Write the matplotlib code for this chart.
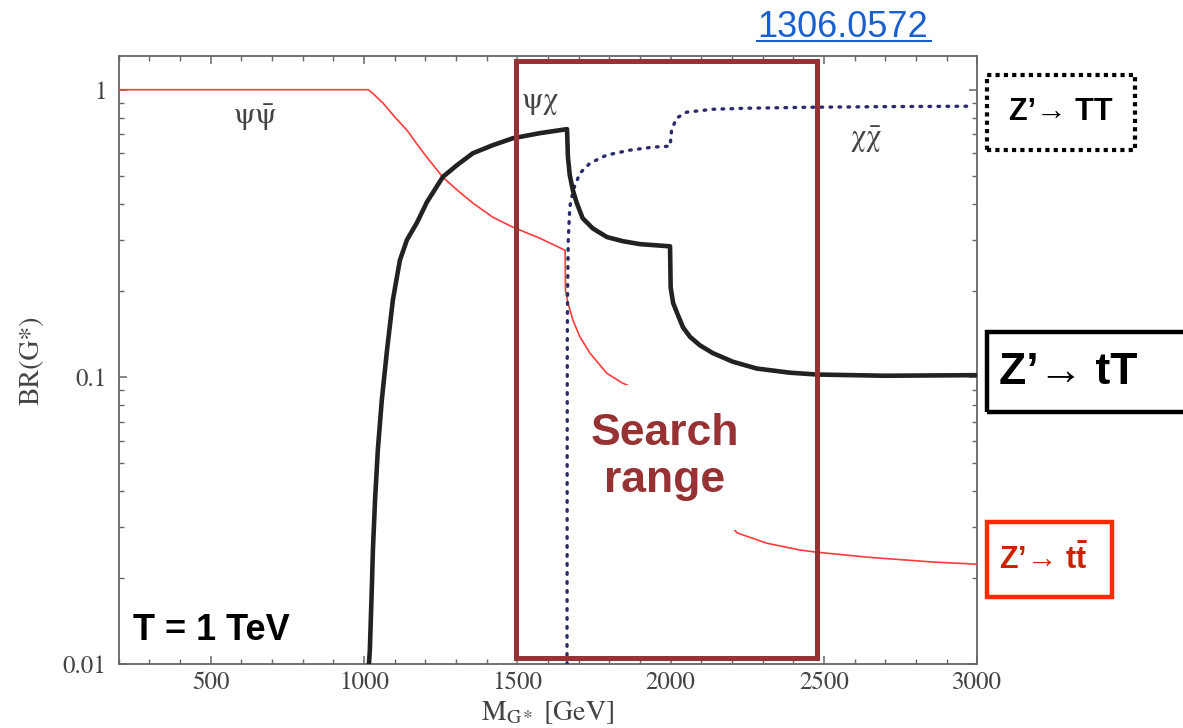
import matplotlib.pyplot as plt
from matplotlib.patches import Rectangle
from matplotlib.lines import Line2D
from matplotlib.ticker import MultipleLocator, LogLocator, FixedLocator, NullFormatter

plt.rcParams['mathtext.fontset'] = 'stix'
plt.rcParams['mathtext.bf'] = 'Liberation Sans:bold'

# branching ratios vs. G* mass, T = 1 TeV
# Z' -> t tbar
m_tt = [200, 1000, 1014, 1029, 1062, 1101, 1140, 1173, 1205, 1257, 1303, 1355, 1420, 1486,
        1574, 1656, 1657, 1665, 1681, 1704, 1737, 1792, 1844, 1900, 2000, 2100, 2216, 2313,
        2421, 2470, 2640, 2855, 3000]
br_tt = [1.0, 1.0, 1.0, 0.970, 0.898, 0.802, 0.723, 0.646, 0.582, 0.496, 0.448, 0.403, 0.360,
         0.332, 0.304, 0.276, 0.200, 0.181, 0.158, 0.138, 0.121, 0.103, 0.0951, 0.090, 0.062,
         0.041, 0.0287, 0.0264, 0.0250, 0.0246, 0.0236, 0.0227, 0.0223]

# Z' -> t T
m_tT = [1016, 1019, 1026, 1029, 1036, 1045, 1058, 1075, 1094, 1117, 1140, 1173, 1205, 1257,
        1303, 1355, 1420, 1486, 1574, 1662, 1665, 1671, 1681, 1694, 1713, 1746, 1792, 1844,
        1900, 1998, 2000, 2008, 2021, 2040, 2063, 2095, 2138, 2203, 2281, 2389, 2477, 2700,
        3000]
br_tT = [0.01, 0.0112, 0.0192, 0.0250, 0.0373, 0.0557, 0.0831, 0.124, 0.185, 0.255, 0.300,
         0.345, 0.406, 0.497, 0.546, 0.601, 0.641, 0.678, 0.706, 0.729, 0.582, 0.504, 0.447,
         0.403, 0.357, 0.329, 0.307, 0.297, 0.290, 0.285, 0.205, 0.181, 0.167, 0.149, 0.138,
         0.129, 0.121, 0.113, 0.107, 0.1035, 0.102, 0.101, 0.1015]

# Z' -> T T
m_TT = [1662, 1662.5, 1663, 1664, 1666, 1671, 1682, 1704, 1737, 1791, 1867, 1942, 1998, 2003,
        2019, 2052, 2138, 2249, 2464, 2700, 2986]
br_TT = [0.01, 0.05, 0.142, 0.200, 0.299, 0.390, 0.447, 0.512, 0.555, 0.592, 0.616, 0.631,
         0.636, 0.723, 0.796, 0.835, 0.855, 0.862, 0.869, 0.873, 0.876]

search_lo, search_hi = 1495, 2478

W, H = 1183, 728
fig = plt.figure(figsize=(W / 100, H / 100), dpi=100)
ax = fig.add_axes([118.7 / W, 1 - 664.3 / H, 858.6 / W, 608.3 / H])


def fx(x):
    return x / W


def fy(y):
    return 1 - y / H


ax.plot(m_tt, br_tt, color='#ff3b3b', lw=1.2, zorder=3)
ax.plot(m_tT, br_tT, color='#222222', lw=3.3, zorder=4, solid_joinstyle='round')
ax.plot(m_TT, br_TT, color='#2a2a6e', lw=2.4, ls=(0, (0.5, 2.2)), dash_capstyle='round',
        zorder=3)

ax.set_yscale('log')
ax.set_xlim(200, 3000)
ax.set_ylim(0.01, 1.31)

ax.xaxis.set_major_locator(FixedLocator([500, 1000, 1500, 2000, 2500, 3000]))
ax.xaxis.set_minor_locator(MultipleLocator(100))
ax.yaxis.set_major_locator(FixedLocator([0.01, 0.1, 1]))
ax.yaxis.set_minor_locator(LogLocator(base=10, subs=range(2, 10)))
ax.yaxis.set_minor_formatter(NullFormatter())
ax.set_yticklabels(['0.01', '0.1', '1'])

ax.tick_params(which='both', direction='in', top=True, right=True, color='#666666',
               labelcolor='#444444', labelsize=18)
ax.tick_params(which='major', length=6, width=1.1)
ax.tick_params(which='minor', length=3.5, width=1.0)
ax.tick_params(axis='y', pad=9)
ax.tick_params(axis='x', pad=5)
for lab in ax.get_xticklabels() + ax.get_yticklabels():
    lab.set_fontfamily('STIXGeneral')
for s in ax.spines.values():
    s.set_color('#666666')
    s.set_linewidth(1.3)

ax.set_xlabel(r'M$_{\mathrm{G*}}$ [GeV]', fontfamily='STIXGeneral', fontsize=20,
              color='#444444', labelpad=3)
ax.set_ylabel('BR(G*)', fontfamily='STIXGeneral', fontsize=20, color='#444444', labelpad=13)

# channel names
ax.text(644, 0.80, r'$\mathrm{\psi\bar{\psi}}$', fontsize=22, color='#444444',
        ha='center', va='center')
ax.text(1574, 0.90, r'$\mathrm{\psi\chi}$', fontsize=22, color='#444444',
        ha='center', va='center')
ax.text(2637, 0.67, r'$\mathrm{\chi\bar{\chi}}$', fontsize=22, color='#444444',
        ha='center', va='center')

# search range box
ax.add_patch(Rectangle((search_lo, 0.0105), search_hi - search_lo, 1.26 - 0.0105,
                       fill=False, edgecolor='#963234', lw=3.6, clip_on=False, zorder=6))
ax.add_patch(Rectangle((0.543, 0.221), 0.186, 0.238, transform=ax.transAxes,
                       facecolor='white', edgecolor='none', zorder=5))
ax.text(0.636, 0.341, 'Search\nrange', transform=ax.transAxes, ha='center', va='center',
        fontsize=32, fontweight='bold', fontfamily='Liberation Sans', color='#963234',
        linespacing=1.2, zorder=7)

ax.text(0.0167, 0.056, 'T = 1 TeV', transform=ax.transAxes, ha='left', va='center',
        fontsize=26, fontweight='bold', fontfamily='Liberation Sans', color='black', zorder=7)

# decay labels on the right
fig.add_artist(Rectangle((fx(987), fy(150)), fx(1135 - 987), (150 - 75) / H,
                         fill=False, edgecolor='black', lw=3, ls=(0, (1, 1))))
fig.text(fx(1061), fy(112), 'Z’→ TT', ha='center', va='center', fontsize=22,
         fontweight='bold', fontfamily=['Liberation Sans', 'DejaVu Sans'])

fig.add_artist(Rectangle((fx(987), fy(412)), fx(1200 - 987), (412 - 332) / H,
                         fill=False, edgecolor='black', lw=3.2))
fig.text(fx(999), fy(373), 'Z’→ tT', ha='left', va='center', fontsize=32,
         fontweight='bold', fontfamily=['Liberation Sans', 'DejaVu Sans'])

fig.add_artist(Rectangle((fx(987), fy(597)), fx(1112 - 987), (597 - 522) / H,
                         fill=False, edgecolor='#ff2a00', lw=3.2))
fig.text(fx(999), fy(560), 'Z’→ t' + r'$\mathbf{\bar{t}}$', ha='left', va='center',
         fontsize=22, fontweight='bold', color='#cc2200', math_fontfamily='custom',
         fontfamily=['Liberation Sans', 'DejaVu Sans'])

# reference link
fig.text(fx(757), fy(37), '1306.0572', ha='left', va='baseline', fontsize=26,
         fontfamily='Liberation Sans', color='#1a5fd0')
fig.add_artist(Line2D([fx(757), fx(931)], [fy(41), fy(41)], color='#1a5fd0', lw=1.5))

fig.savefig('out.png', dpi=100)
